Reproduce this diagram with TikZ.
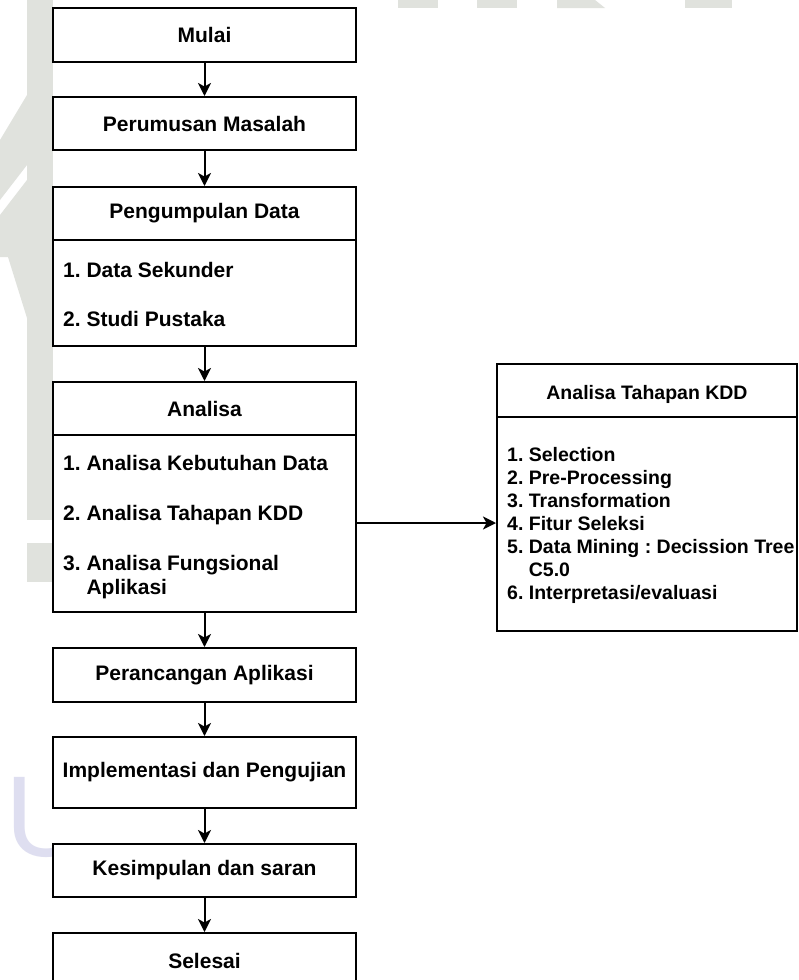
\documentclass[tikz,border=0pt]{standalone}
\usepackage{fontspec}
\setmainfont{Liberation Sans}
\usetikzlibrary{arrows.meta}
\definecolor{wm}{RGB}{224,226,221}
\definecolor{wmu}{RGB}{222,222,240}
\frenchspacing
\begin{document}
\begin{tikzpicture}[x=1pt,y=-1pt,
  box/.style={draw=black, line width=2pt, fill=white, minimum width=303pt, inner sep=0pt, font=\fontsize{21}{24}\selectfont\bfseries},
  kbox/.style={draw=black, line width=2pt, fill=white, minimum width=300pt, inner sep=0pt},
  head/.style={inner sep=0pt, font=\fontsize{21}{24}\selectfont\bfseries},
  khead/.style={inner sep=0pt, font=\fontsize{19.5}{23}\selectfont\bfseries},
  item/.style={anchor=base west, inner sep=0pt, font=\fontsize{21}{24.3}\selectfont\bfseries},
  kitem/.style={anchor=base west, inner sep=0pt, font=\fontsize{19.5}{23}\selectfont\bfseries},
  divider/.style={line width=2pt},
  arr/.style={line width=2pt, -{Stealth[length=13pt,width=13pt,inset=3.5pt]}},
]
\clip (0,0) rectangle (798,980);
\fill[white] (0,0) rectangle (798,980);
% faint background watermark
\fill[wm] (27,0) rectangle (53,520);
\fill[wm] (27,543) rectangle (53,582);
\fill[wm] (0,140) -- (27,95) -- (27,165) -- (0,200) -- cycle;
\fill[wm] (0,215) -- (27,180) -- (27,257) -- (0,257) -- cycle;
\fill[wm] (0,233) rectangle (53,257);
\fill[wm] (8,257) -- (27,257) -- (27,318) -- cycle;
\fill[wm] (398,0) rectangle (438,8);
\fill[wm] (477,0) rectangle (517,8);
\fill[wm] (557,0) -- (595,0) -- (605,8) -- (557,8) -- cycle;
\fill[wm] (685,0) rectangle (732,8);
\begin{scope}
\clip (0,700) rectangle (53,900);
\node[anchor=base west, inner sep=0pt, text=wmu, font=\fontsize{115}{115}\selectfont\rmfamily] (wmU) at (5,856) {U};
\end{scope}

% main column
\node[box, minimum height=54pt] (mulai) at (204.5,35) {Mulai};
\node[box, minimum height=53pt] (perumusan) at (204.5,123.5) {Perumusan Masalah};

\node[box, minimum height=159pt] (pengumpulan) at (204.5,266.5) {};
\node[head] (pengumpulanH) at (204.5,213) {Pengumpulan Data};
\draw[divider] (pengumpulan.west |- 0,240) -- (pengumpulan.east |- 0,240);
\node[item] (p1) at (63,277) {1. Data Sekunder};
\node[item] (p2) at (63,326) {2. Studi Pustaka};

\node[box, minimum height=230pt] (analisa) at (204.5,497) {};
\node[head] (analisaH) at (204.5,409) {Analisa};
\draw[divider] (analisa.west |- 0,435) -- (analisa.east |- 0,435);
\node[item] (a1) at (63,470) {1. Analisa Kebutuhan Data};
\node[item] (a2) at (63,520) {2. Analisa Tahapan KDD};
\node[item] (a3) at (63,570) {3. Analisa Fungsional};
\node[item] (a3b) at (63,594) {\phantom{3.} Aplikasi};

\node[box, minimum height=54pt] (perancangan) at (204.5,675) {Perancangan Aplikasi};
\node[box, minimum height=71pt] (implementasi) at (204.5,772.5) {Implementasi dan Pengujian};
\node[box, minimum height=53pt] (kesimpulan) at (204.5,870.5) {Kesimpulan dan saran};
\node[box, minimum height=80pt] (selesai) at (204.5,973) {};
\node[head] (selesaiT) at (204.5,961) {Selesai};

% KDD box
\node[kbox, minimum height=267pt] (kdd) at (647,497.5) {};
\node[khead] (kddH) at (647,394) {Analisa Tahapan KDD};
\draw[divider] (kdd.west |- 0,417) -- (kdd.east |- 0,417);
\node[kitem] (k1) at (507,461) {1. Selection};
\node[kitem] (k2) at (507,484) {2. Pre-Processing};
\node[kitem] (k3) at (507,507) {3. Transformation};
\node[kitem] (k4) at (507,530) {4. Fitur Seleksi};
\node[kitem] (k5) at (507,553) {5. Data Mining : Decission Tree};
\node[kitem] (k5b) at (507,576) {\phantom{5.} C5.0};
\node[kitem] (k6) at (507,599) {6. Interpretasi/evaluasi};

% connectors
\draw[arr] (mulai.south) -- (perumusan.north);
\draw[arr] (perumusan.south) -- (pengumpulan.north);
\draw[arr] (pengumpulan.south) -- (analisa.north);
\draw[arr] (analisa.south) -- (perancangan.north);
\draw[arr] (perancangan.south) -- (implementasi.north);
\draw[arr] (implementasi.south) -- (kesimpulan.north);
\draw[arr] (kesimpulan.south) -- (selesai.north);
\draw[arr] ([yshift=-26pt]analisa.east) -- ([yshift=-26pt]analisa.east -| kdd.west);
\end{tikzpicture}
\end{document}
